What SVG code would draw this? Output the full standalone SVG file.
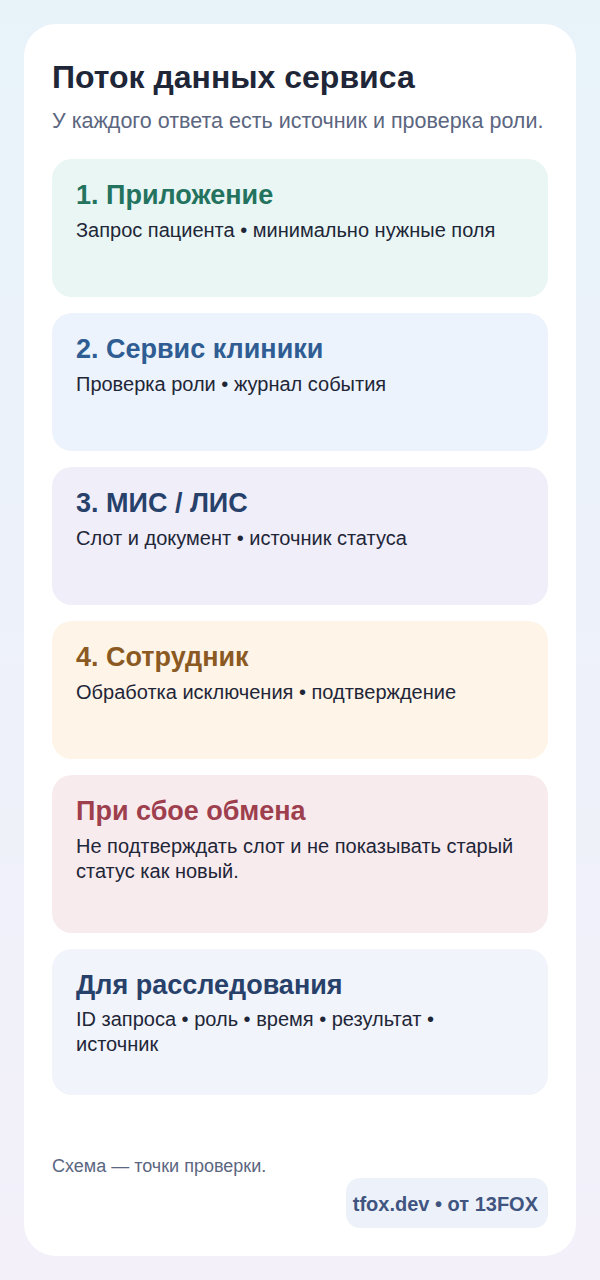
<svg xmlns="http://www.w3.org/2000/svg" width="600" height="1280" viewBox="0 0 600 1280">
<defs>
<linearGradient id="bg" x1="0" y1="0" x2="0" y2="1">
<stop offset="0" stop-color="#e8f3f9"/>
<stop offset="1" stop-color="#f3f0fa"/>
</linearGradient>
<style>
.t{font-family:"Liberation Sans",Arial,sans-serif;font-weight:bold;font-size:27px}
.b{font-family:"Liberation Sans",Arial,sans-serif;font-size:20px;fill:#1e2638}
.card{stroke:none}
</style>
</defs>
<rect width="600" height="1280" fill="url(#bg)"/>
<rect x="24" y="24" width="552" height="1232" rx="32" fill="#ffffff"/>
<g id="header">
<text x="52" y="88" font-family="Liberation Sans, Arial, sans-serif" font-weight="bold" font-size="32" fill="#1e2638">Поток данных сервиса</text>
<text x="52" y="128" font-family="Liberation Sans, Arial, sans-serif" font-size="21.5" fill="#5b6680">У каждого ответа есть источник и проверка роли.</text>
</g>
<g id="connectors"></g>
<g id="n1">
<rect class="card" x="52" y="159" width="496" height="138" rx="20" fill="#e9f6f3"/>
<text class="t" x="76" y="204" fill="#23735f">1. Приложение</text>
<text class="b" x="76" y="237">Запрос пациента • минимально нужные поля</text>
</g>
<g id="n2">
<rect class="card" x="52" y="313" width="496" height="138" rx="20" fill="#ecf3fc"/>
<text class="t" x="76" y="358" fill="#2f5d93">2. Сервис клиники</text>
<text class="b" x="76" y="391">Проверка роли • журнал события</text>
</g>
<g id="n3">
<rect class="card" x="52" y="467" width="496" height="138" rx="20" fill="#f0eef9"/>
<text class="t" x="76" y="512" fill="#27416b">3. МИС / ЛИС</text>
<text class="b" x="76" y="545">Слот и документ • источник статуса</text>
</g>
<g id="n4">
<rect class="card" x="52" y="621" width="496" height="138" rx="20" fill="#fef4e8"/>
<text class="t" x="76" y="666" fill="#8a5a22">4. Сотрудник</text>
<text class="b" x="76" y="699">Обработка исключения • подтверждение</text>
</g>
<g id="n5">
<rect class="card" x="52" y="775" width="496" height="158" rx="20" fill="#f8ebee"/>
<text class="t" x="76" y="820" fill="#9e3f4e">При сбое обмена</text>
<text class="b" x="76" y="853">Не подтверждать слот и не показывать старый</text>
<text class="b" x="76" y="878">статус как новый.</text>
</g>
<g id="n6">
<rect class="card" x="52" y="949" width="496" height="146" rx="20" fill="#f1f4fa"/>
<text class="t" x="76" y="994" fill="#27416b">Для расследования</text>
<text class="b" x="76" y="1026">ID запроса • роль • время • результат •</text>
<text class="b" x="76" y="1051">источник</text>
</g>
<g id="footer">
<text x="52" y="1172" font-family="Liberation Sans, Arial, sans-serif" font-size="18" fill="#5b6680">Схема — точки проверки.</text>
<rect x="346" y="1178" width="202" height="50" rx="14" fill="#edf1fa"/>
<text x="538" y="1211" text-anchor="end" font-family="Liberation Sans, Arial, sans-serif" font-weight="bold" font-size="20" fill="#3f5580">tfox.dev • от 13FOX</text>
</g>
</svg>
